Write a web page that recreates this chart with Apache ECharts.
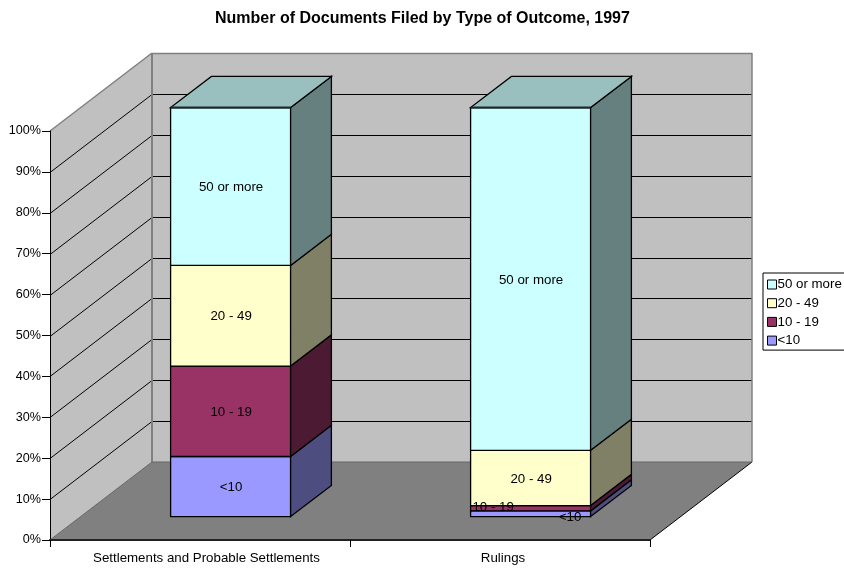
<!DOCTYPE html>
<html>
<head>
<meta charset="utf-8">
<style>
  html, body { margin: 0; padding: 0; background: #fff; overflow: hidden; }
  #chart { width: 844px; height: 568px; }
</style>
</head>
<body>
<div id="chart"></div>
<script src="https://cdn.jsdelivr.net/npm/echarts@6/dist/echarts.min.js"></script>
<script>
const categories = ["Settlements and Probable Settlements", "Rulings"];
const seriesNames = ["<10", "10 - 19", "20 - 49", "50 or more"];
const lessThan10 = [14.7, 1.4];
const from10To19 = [22.1, 1.3];
const from20To49 = [24.6, 13.5];
const over50 = [38.6, 83.8];
const gridValues = [10, 20, 30, 40, 50, 60, 70, 80, 90];

const faceColors = ["#9999FF", "#993366", "#FFFFCC", "#CCFFFF"];
const sideColors = ["#4D4D80", "#4D1A33", "#808066", "#668080"];
const topColor = "#99BFBF";

// fake 3d: how far the back wall sits from the front of the plot, px
const depthX = 102;
const depthY = 78;
const barNear = 0.3;
const barFar = 0.7;
const barShare = 0.4;

const fontFamily = "Liberation Sans";
const font = "13.3px 'Liberation Sans', Arial, sans-serif";

// the two squeezed Rulings labels sit off centre in the original
const labelNudge = { "1-1": [-38, -2], "1-0": [39, 3] };

const allValues = [lessThan10, from10To19, from20To49, over50];

function crisp(v) {
  return Math.round(v) + 0.5;
}

function line(x1, y1, x2, y2, stroke, width) {
  return {
    type: "line",
    shape: { x1, y1, x2, y2 },
    style: { stroke, lineWidth: width || 1, fill: null },
  };
}

function poly(points, fill, stroke, z2) {
  return {
    type: "polygon",
    z2: z2 || 0,
    shape: { points },
    style: { fill, stroke: stroke || null, lineWidth: stroke ? 1.3 : 0 },
  };
}

function renderWalls(params, api) {
  const r = params.coordSys;
  const x0 = r.x;
  const x1 = r.x + r.width;
  const top = r.y;
  const bottom = r.y + r.height;
  const bx0 = x0 + depthX;
  const bx1 = x1 + depthX;
  const children = [
    poly([[bx0, top - depthY], [bx1, top - depthY], [bx1, bottom - depthY], [bx0, bottom - depthY]], "#C0C0C0"),
    poly([[x0, top], [bx0, top - depthY], [bx0, bottom - depthY], [x0, bottom]], "#C0C0C0"),
    poly([[x0, bottom], [x1, bottom], [bx1, bottom - depthY], [bx0, bottom - depthY]], "#808080"),
  ];
  gridValues.forEach((v) => {
    const y = api.coord([0, v])[1];
    children.push(line(x0, crisp(y), bx0, crisp(y - depthY), "#000"));
    children.push(line(bx0, crisp(y - depthY), bx1, crisp(y - depthY), "#000"));
  });
  children.push(
    line(x0, top, bx0, top - depthY, "#808080", 1.5),
    line(bx0, crisp(top - depthY), bx1, crisp(top - depthY), "#808080", 1.5),
    line(bx0, top - depthY, bx0, bottom - depthY, "#808080", 2),
    line(bx1, top - depthY, bx1, bottom - depthY, "#808080", 1.5),
    line(x0, bottom, bx0, bottom - depthY, "#666"),
    line(x1, bottom, bx1, bottom - depthY, "#000"),
    line(bx0, bottom - depthY, bx1, bottom - depthY, "#666")
  );
  return { type: "group", children };
}

function renderSegment(params, api) {
  const cat = api.value(0);
  const start = api.value(1);
  const end = api.value(2);
  const level = params.seriesIndex - 1;
  const center = api.coord([cat, 0])[0];
  const half = (api.size([1, 0])[0] * barShare) / 2;
  const pt = (side, val, depth) => [
    center + side * half + depth * depthX,
    api.coord([cat, val])[1] - depth * depthY,
  ];

  const a = pt(-1, start, barNear);
  const b = pt(1, start, barNear);
  const c = pt(1, end, barNear);
  const d = pt(-1, end, barNear);
  const e = pt(1, start, barFar);
  const f = pt(1, end, barFar);
  const g = pt(-1, end, barFar);

  const children = [
    poly([a, b, c, d], faceColors[level], "#000", level),
    poly([b, e, f, c], sideColors[level], "#000", level),
  ];
  if (level === allValues.length - 1) {
    children.push(poly([d, c, f, g], topColor, "#000", level));
    const edge = line(d[0], d[1], c[0], c[1], "#1a2a2a", 2);
    edge.z2 = level + 1;
    children.push(edge);
  }
  const nudge = labelNudge[cat + "-" + level] || [0, 0];
  children.push({
    type: "text",
    z2: 50,
    style: {
      text: seriesNames[level],
      x: (a[0] + b[0]) / 2 + nudge[0] + 0.5,
      y: (a[1] + d[1]) / 2 + nudge[1] + 1,
      align: "center",
      verticalAlign: "middle",
      font,
      fill: "#000",
    },
  });
  return { type: "group", children };
}

const barSeries = seriesNames.map((name, i) => ({
  name,
  type: "custom",
  z: 2,
  itemStyle: { color: faceColors[i] },
  encode: { x: 0, y: [1, 2] },
  renderItem: renderSegment,
  data: categories.map((_, c) => {
    let start = 0;
    for (let k = 0; k < i; k++) start += allValues[k][c];
    return [c, start, start + allValues[i][c]];
  }),
}));

const chart = echarts.init(document.getElementById("chart"));
chart.setOption({
  animation: false,
  backgroundColor: "#fff",
  title: {
    text: "Number of Documents Filed by Type of Outcome, 1997",
    left: 210,
    top: 6,
    textStyle: {
      fontFamily,
      fontSize: 16,
      fontWeight: "bold",
      color: "#000",
    },
  },
  legend: {
    orient: "vertical",
    left: 763,
    top: 273,
    padding: [5, 4, 3, 4],
    itemWidth: 9,
    itemHeight: 9,
    itemGap: 5.7,
    icon: "rect",
    selectedMode: false,
    borderColor: "#000",
    borderWidth: 1,
    itemStyle: { borderColor: "#000", borderWidth: 1 },
    textStyle: {
      fontFamily,
      fontSize: 13.3,
      color: "#000",
      padding: [0, 0, 0, -4],
    },
    data: seriesNames.slice().reverse(),
  },
  grid: { left: 50, right: 194, top: 131, bottom: 28 },
  xAxis: {
    type: "category",
    data: [
      { value: categories[0], textStyle: { padding: [0, 0, 0, 13] } },
      { value: categories[1], textStyle: { padding: [0, 0, 0, 6] } },
    ],
    z: 5,
    axisLine: { lineStyle: { color: "#222", width: 2 } },
    axisTick: { show: true, alignWithLabel: false, length: 7, lineStyle: { color: "#000" } },
    axisLabel: {
      fontFamily,
      fontSize: 13.3,
      color: "#000",
      margin: 12,
      interval: 0,
    },
  },
  yAxis: {
    type: "value",
    min: 0,
    max: 100,
    interval: 10,
    z: 5,
    axisLine: { show: true, lineStyle: { color: "#000" } },
    axisTick: { show: true, length: 8, lineStyle: { color: "#000" } },
    axisLabel: {
      fontFamily,
      fontSize: 12.6,
      color: "#000",
      margin: 9,
      padding: [2, 0, 0, 0],
      formatter: "{value}%",
    },
    splitLine: { show: false },
  },
  series: [
    {
      type: "custom",
      name: "walls",
      z: 1,
      renderItem: renderWalls,
      encode: { x: 0, y: 1 },
      data: [[0, 0]],
      silent: true,
    },
  ].concat(barSeries),
});
</script>
</body>
</html>
